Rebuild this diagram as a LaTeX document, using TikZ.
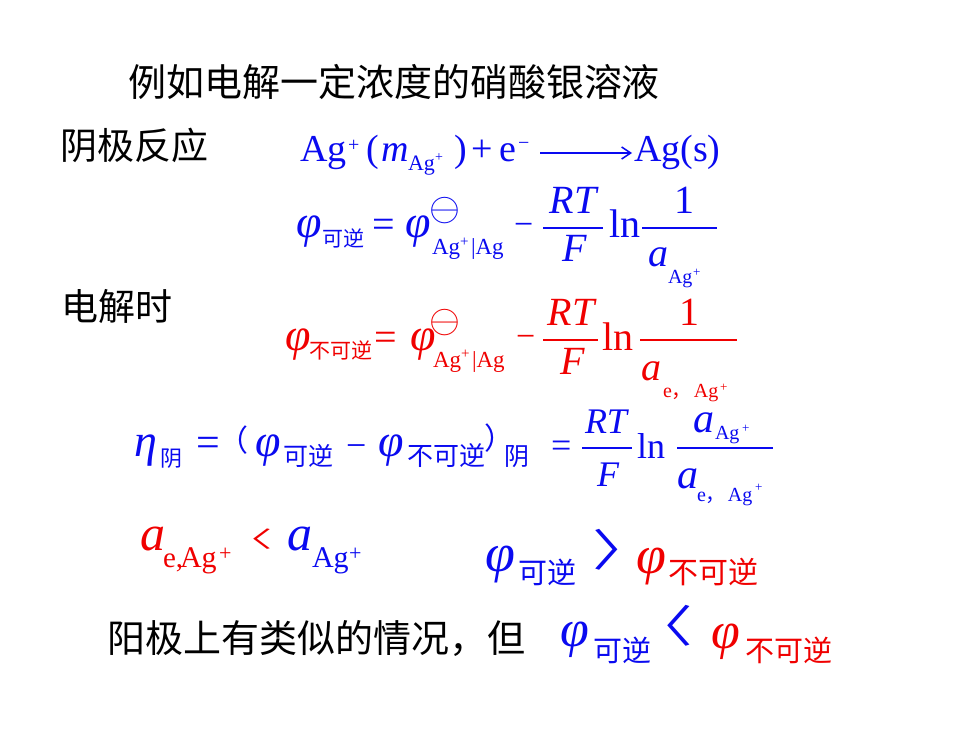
\documentclass[tikz,border=0pt]{standalone}
\usepackage{fontspec}
\usepackage{graphicx}
\setmainfont{Liberation Serif}
\newfontfamily\cjk{Noto Sans CJK SC}
\usetikzlibrary{arrows.meta}
\newcommand\fs[1]{\fontsize{#1}{#1}\selectfont}
\newcommand\stdsym{\scalebox{1.6}{$\ominus$}}
\definecolor{myblue}{RGB}{10,10,240}
\definecolor{myred}{RGB}{240,0,0}
\tikzset{
  tx/.style={inner sep=0pt, outer sep=0pt, anchor=base west},
  ctr/.style={inner sep=0pt, outer sep=0pt, anchor=base},
  mid/.style={inner sep=0pt, outer sep=0pt, anchor=center},
  fbar/.style={line width=1.8pt},
}
\begin{document}
\begin{tikzpicture}[x=1pt,y=-1pt]
\useasboundingbox[fill=white] (0,0) rectangle (980,735);
% black text
\node[tx, font=\cjk\fs{38}] (title) at (128,97) {例如电解一定浓度的硝酸银溶液};
\node[tx, font=\cjk\fs{37}] (cath) at (60,160) {阴极反应};
\node[tx, font=\cjk\fs{37}] (elec) at (61,321) {电解时};
\node[tx, font=\cjk\fs{38}] (anod) at (107,652) {阳极上有类似的情况，但};

% formula 1
\begin{scope}[every node/.append style={text=myblue}, myblue]
\node[tx, font=\fs{38}] (fa1) at (300,162) {Ag};
\node[tx, font=\fs{20}] (fa2) at (348,152) {+};
\node[tx, font=\fs{38}] (fa3) at (366,162) {(};
\node[tx, font=\fs{38}\itshape] (fa4) at (381,162) {m};
\node[tx, font=\fs{22}] (fa5) at (408,171) {Ag};
\node[tx, font=\fs{14}] (fa6) at (435,162) {+};
\node[tx, font=\fs{38}] (fa7) at (454,162) {)};
\node[tx, font=\fs{38}] (fa8) at (471,162) {+};
\node[tx, font=\fs{38}] (fa9) at (499,162) {e};
\node[tx, font=\fs{20}] (fa10) at (518,150) {−};
\coordinate (arrS) at (540,153);
\coordinate (arrE) at (632,153);
\draw[line width=1.5pt, -{Straight Barb[length=9pt,width=12pt,line width=1.5pt]}] (arrS) -- (arrE);
\node[tx, font=\fs{38}] (fa11) at (634,162) {Ag(s)};

% formula 2
\node[tx, font=\fs{46}\itshape] (fb1) at (296,238) {φ};
\node[tx, font=\cjk\fs{21}] (fb2) at (322,247) {可逆};
\node[tx, font=\fs{40}] (fb3) at (372,238) {=};
\node[tx, font=\fs{46}\itshape] (fb4) at (405,238) {φ};
\node[mid, font=\fs{24}] (fb5) at (445,211) {\stdsym};
\node[tx, font=\fs{23}] (fb6) at (432,255) {Ag};
\node[tx, font=\fs{15}] (fb7) at (460,247) {+};
\node[tx, font=\fs{23}] (fb8) at (471,255) {|Ag};
\node[tx, font=\fs{34}] (fb9) at (514,236) {−};
\node[ctr, font=\fs{40}\itshape] (fb10) at (573,214) {RT};
\draw[fbar] (543,228) -- (603,228);
\node[ctr, font=\fs{40}\itshape] (fb11) at (575,262) {F};
\node[tx, font=\fs{40}] (fb12) at (609,238) {ln};
\draw[fbar] (642,228) -- (717,228);
\node[ctr, font=\fs{40}] (fb13) at (684,214) {1};
\node[tx, font=\fs{40}\itshape] (fb14) at (648,267) {a};
\node[tx, font=\fs{20}] (fb15) at (668,284) {Ag};
\node[tx, font=\fs{13}] (fb16) at (693,277) {+};
\end{scope}

% formula 3
\begin{scope}[every node/.append style={text=myred}, myred]
\node[tx, font=\fs{46}\itshape] (fc1) at (285,350) {φ};
\node[tx, font=\cjk\fs{21}] (fc2) at (309,359) {不可逆};
\node[tx, font=\fs{40}] (fc3) at (374,350) {=};
\node[tx, font=\fs{46}\itshape] (fc4) at (410,350) {φ};
\node[mid, font=\fs{24}] (fc5) at (445,323) {\stdsym};
\node[tx, font=\fs{23}] (fc6) at (433,367) {Ag};
\node[tx, font=\fs{15}] (fc7) at (461,359) {+};
\node[tx, font=\fs{23}] (fc8) at (472,367) {|Ag};
\node[tx, font=\fs{34}] (fc9) at (516,348) {−};
\node[ctr, font=\fs{40}\itshape] (fc10) at (571,326) {RT};
\draw[fbar] (543,340) -- (598,340);
\node[ctr, font=\fs{40}\itshape] (fc11) at (573,374) {F};
\node[tx, font=\fs{40}] (fc12) at (602,350) {ln};
\draw[fbar] (640,340) -- (737,340);
\node[ctr, font=\fs{40}] (fc13) at (689,326) {1};
\node[tx, font=\fs{40}\itshape] (fc14) at (641,380) {a};
\node[tx, font=\fs{20}] (fc15) at (663,397) {e{\cjk ，}\kern2pt Ag};
\node[tx, font=\fs{13}] (fc16) at (720,391) {+};
\end{scope}

% formula 4
\begin{scope}[every node/.append style={text=myblue}, myblue]
\node[tx, font=\fs{46}\itshape] (fd1) at (134,456) {η};
\node[tx, font=\cjk\fs{22}] (fd2) at (160,466) {阴};
\node[tx, font=\fs{42}] (fd3) at (196,456) {=};
\node[tx, font=\cjk\fs{30}] (fd4) at (218,451) {（};
\node[tx, font=\fs{46}\itshape] (fd5) at (255,456) {φ};
\node[tx, font=\cjk\fs{25}] (fd6) at (283,465) {可逆};
\node[tx, font=\fs{36}] (fd7) at (346,457) {−};
\node[tx, font=\fs{46}\itshape] (fd8) at (378,456) {φ};
\node[tx, font=\cjk\fs{26}] (fd9) at (407,465) {不可逆};
\node[tx, font=\cjk\fs{30}] (fd10) at (484,449) {）};
\node[tx, font=\cjk\fs{25}] (fd11) at (504,465) {阴};
\node[tx, font=\fs{36}] (fd12) at (551,457) {=};
\node[ctr, font=\fs{36}\itshape] (fd13) at (606,433) {RT};
\draw[fbar] (582,448) -- (632,448);
\node[ctr, font=\fs{36}\itshape] (fd14) at (608,486) {F};
\node[tx, font=\fs{36}] (fd15) at (637,458) {ln};
\draw[fbar] (677,448) -- (773,448);
\node[tx, font=\fs{42}\itshape] (fd16) at (693,432) {a};
\node[tx, font=\fs{20}] (fd17) at (715,439) {Ag};
\node[tx, font=\fs{13}] (fd18) at (742,432) {+};
\node[tx, font=\fs{42}\itshape] (fd19) at (677,488) {a};
\node[tx, font=\fs{20}] (fd20) at (697,501) {e{\cjk ，}\kern2pt Ag};
\node[tx, font=\fs{13}] (fd21) at (755,491) {+};
\end{scope}

% row 5
\node[tx, font=\fs{50}\itshape, text=myred] (fe1) at (140,550) {a};
\node[tx, font=\fs{29}, text=myred] (fe2) at (163,567) {e,};
\node[tx, font=\fs{30}, text=myred] (fe3) at (180,567) {Ag};
\node[tx, font=\fs{22}, text=myred] (fe4) at (219,560) {+};
\node[mid, font=\cjk\fs{22}, text=myred] (fe5) at (250,539) {\scalebox{2.1}[1]{〈}};
\node[tx, font=\fs{50}\itshape, text=myblue] (fe6) at (287,550) {a};
\node[tx, font=\fs{30}, text=myblue] (fe7) at (312,567) {Ag};
\node[tx, font=\fs{22}, text=myblue] (fe8) at (349,560) {+};

\node[tx, font=\fs{54}\itshape, text=myblue] (ff1) at (485,571) {φ};
\node[tx, font=\cjk\fs{29}, text=myblue] (ff2) at (518,583) {可逆};
\node[mid, font=\cjk\fs{44}, text=myblue] (ff3) at (623,550) {\scalebox{1.4}[1]{〉}};
\node[tx, font=\fs{54}\itshape, text=myred] (ff4) at (636,573) {φ};
\node[tx, font=\cjk\fs{30}, text=myred] (ff5) at (668,583) {不可逆};

% row 6
\node[tx, font=\fs{52}\itshape, text=myblue] (fg1) at (560,646) {φ};
\node[tx, font=\cjk\fs{29}, text=myblue] (fg2) at (593,661) {可逆};
\node[mid, font=\cjk\fs{44}, text=myblue] (fg3) at (662,626) {\scalebox{1.4}[1]{〈}};
\node[tx, font=\fs{52}\itshape, text=myred] (fg4) at (711,648) {φ};
\node[tx, font=\cjk\fs{29}, text=myred] (fg5) at (745,661) {不可逆};
\end{tikzpicture}
\end{document}
